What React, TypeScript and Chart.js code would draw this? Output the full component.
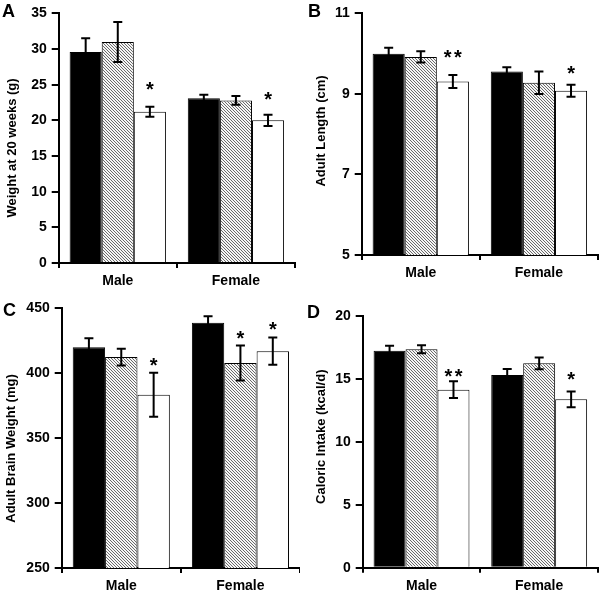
import React, { useEffect, useRef } from 'react';
import { Chart, registerables } from 'chart.js';

Chart.register(...registerables);

const categories = ['Male', 'Female'];

// Panel A – Weight at 20 weeks (g)
const weightBlack = [29.6, 23.1];
const weightBlackErr = [1.9, 0.5];
const weightHatched = [31.0, 22.8];
const weightHatchedErr = [2.8, 0.6];
const weightWhite = [21.2, 20.0];
const weightWhiteErr = [0.7, 0.8];
const weightStars = [['', ''], ['', ''], ['*', '*']];
const weightStarLevels = [[null, null], [null, null], [25.0, 23.6]];
const weightAxis = [0, 35, 5];

// Panel B – Adult Length (cm)
const lengthBlack = [10.0, 9.56];
const lengthBlackErr = [0.15, 0.1];
const lengthHatched = [9.92, 9.28];
const lengthHatchedErr = [0.14, 0.28];
const lengthWhite = [9.31, 9.08];
const lengthWhiteErr = [0.16, 0.15];
const lengthStars = [['', ''], ['', ''], ['**', '*']];
const lengthStarLevels = [[null, null], [null, null], [10.02, 9.62]];
const lengthAxis = [5, 11, 2];

// Panel C – Adult Brain Weight (mg)
const brainBlack = [420, 439];
const brainBlackErr = [7, 5];
const brainHatched = [412.5, 408];
const brainHatchedErr = [6.5, 13.5];
const brainWhite = [383.5, 417];
const brainWhiteErr = [17, 10.5];
const brainStars = [['', ''], ['', '*'], ['*', '*']];
const brainStarLevels = [[null, null], [null, 430.3], [409.8, 437.5]];
const brainAxis = [250, 450, 50];

// Panel D – Caloric Intake (kcal/d)
const calBlack = [17.22, 15.29];
const calBlackErr = [0.4, 0.48];
const calHatched = [17.33, 16.22];
const calHatchedErr = [0.32, 0.47];
const calWhite = [14.13, 13.36];
const calWhiteErr = [0.67, 0.63];
const calStars = [['', ''], ['', ''], ['**', '*']];
const calStarLevels = [[null, null], [null, null], [15.59, 15.36]];
const calAxis = [0, 20, 5];

type Panel = {
  letter: string;
  title: string;
  axis: number[];
  means: number[][];
  errs: number[][];
  stars: string[][];
  starLevels: (number | null)[][];
  left: number;
  top: number;
  padTop: number;
  padRight: number;
  yWidth: number;
  xHeight: number;
  letterPos: [number, number];
  titlePos: [number, number];
};

const panels: Panel[] = [
  {
    letter: 'A',
    title: 'Weight at 20 weeks (g)',
    axis: weightAxis,
    means: [weightBlack, weightHatched, weightWhite],
    errs: [weightBlackErr, weightHatchedErr, weightWhiteErr],
    stars: weightStars,
    starLevels: weightStarLevels,
    left: 0, top: 0, padTop: 8, padRight: 5, yWidth: 58.7, xHeight: 32,
    letterPos: [2, 16.5], titlePos: [12, 148],
  },
  {
    letter: 'B',
    title: 'Adult Length (cm)',
    axis: lengthAxis,
    means: [lengthBlack, lengthHatched, lengthWhite],
    errs: [lengthBlackErr, lengthHatchedErr, lengthWhiteErr],
    stars: lengthStars,
    starLevels: lengthStarLevels,
    left: 300, top: 0, padTop: 8, padRight: 2, yWidth: 61.7, xHeight: 40,
    letterPos: [8, 16.5], titlePos: [21.7, 131],
  },
  {
    letter: 'C',
    title: 'Adult Brain Weight (mg)',
    axis: brainAxis,
    means: [brainBlack, brainHatched, brainWhite],
    errs: [brainBlackErr, brainHatchedErr, brainWhiteErr],
    stars: brainStars,
    starLevels: brainStarLevels,
    left: 0, top: 295, padTop: 11.7, padRight: 0, yWidth: 61.7, xHeight: 22,
    letterPos: [3, 20.5], titlePos: [11.7, 153.5],
  },
  {
    letter: 'D',
    title: 'Caloric Intake (kcal/d)',
    axis: calAxis,
    means: [calBlack, calHatched, calWhite],
    errs: [calBlackErr, calHatchedErr, calWhiteErr],
    stars: calStars,
    starLevels: calStarLevels,
    left: 300, top: 295, padTop: 20.7, padRight: 2, yWidth: 62.7, xHeight: 22.3,
    letterPos: [7, 22.5], titlePos: [21.7, 141.7],
  },
];

const FONT = '"Liberation Sans", Arial, Helvetica, sans-serif';

function makeHatch(): CanvasPattern | string {
  const n = 3;
  const c = document.createElement('canvas');
  c.width = n;
  c.height = n;
  const g = c.getContext('2d');
  if (!g) return '#aaa';
  g.fillStyle = '#f6f6f6';
  g.fillRect(0, 0, n, n);
  g.strokeStyle = '#5a5a5a';
  g.lineWidth = 0.9;
  g.beginPath();
  g.moveTo(-1, -1);
  g.lineTo(n + 1, n + 1);
  g.moveTo(n - 1, -1);
  g.lineTo(n + 1, 1);
  g.moveTo(-1, n - 1);
  g.lineTo(1, n + 1);
  g.stroke();
  return g.createPattern(c, 'repeat') || '#aaa';
}

function PanelChart({ p }: { p: Panel }) {
  const ref = useRef<HTMLCanvasElement | null>(null);
  useEffect(() => {
    if (!ref.current) return;
    const hatch = makeHatch();
    const fills: any[] = ['#000', hatch, '#fff'];
    const overlay = {
      id: 'overlay',
      afterDatasetsDraw(chart: any) {
        const ctx = chart.ctx as CanvasRenderingContext2D;
        const y = chart.scales.y;
        ctx.save();
        p.means.forEach((series, i) => {
          const meta = chart.getDatasetMeta(i);
          series.forEach((v, j) => {
            const bar = meta.data[j] as any;
            const x = bar.x;
            const e = p.errs[i][j];
            const t = y.getPixelForValue(v + e);
            const b = y.getPixelForValue(v - e);
            ctx.strokeStyle = '#000';
            ctx.lineWidth = 2;
            ctx.beginPath();
            ctx.moveTo(x, t);
            ctx.lineTo(x, b);
            ctx.moveTo(x - 4.5, t);
            ctx.lineTo(x + 4.5, t);
            ctx.moveTo(x - 4.5, b);
            ctx.lineTo(x + 4.5, b);
            ctx.stroke();
            const s = p.stars[i][j];
            const lvl = p.starLevels[i][j];
            if (s && lvl != null) {
              ctx.font = `bold 20px ${FONT}`;
              ctx.textAlign = 'left';
              ctx.textBaseline = 'alphabetic';
              ctx.fillStyle = '#000';
              const gap = 2.5;
              const cw = ctx.measureText('*').width;
              const total = s.length * cw + (s.length - 1) * gap;
              let cx = x - total / 2;
              for (const ch of s) {
                ctx.fillText(ch, cx, y.getPixelForValue(lvl) + 11.5);
                cx += cw + gap;
              }
            }
          });
        });
        ctx.restore();
      },
      afterDraw(chart: any) {
        const ctx = chart.ctx as CanvasRenderingContext2D;
        ctx.save();
        ctx.fillStyle = '#000';
        ctx.font = `bold 18px ${FONT}`;
        ctx.textAlign = 'left';
        ctx.textBaseline = 'alphabetic';
        ctx.fillText(p.letter, p.letterPos[0], p.letterPos[1]);
        ctx.translate(p.titlePos[0], p.titlePos[1]);
        ctx.rotate(-Math.PI / 2);
        ctx.font = `bold 13px ${FONT}`;
        ctx.textAlign = 'center';
        ctx.textBaseline = 'middle';
        ctx.fillText(p.title, 0, 0);
        ctx.restore();
      },
    };
    const chart = new Chart(ref.current, {
      type: 'bar',
      data: {
        labels: categories,
        datasets: p.means.map((m, i) => ({
          data: m,
          backgroundColor: fills[i],
          borderColor: '#000',
          borderWidth: 1,
          categoryPercentage: 0.815,
          barPercentage: 1,
        })),
      },
      options: {
        animation: false,
        responsive: false,
        maintainAspectRatio: false,
        events: [],
        layout: { padding: { top: p.padTop, right: p.padRight, left: 0, bottom: 0 } },
        plugins: { legend: { display: false }, tooltip: { enabled: false } },
        scales: {
          x: {
            offset: true,
            grid: { display: true, offset: true, drawOnChartArea: false, drawTicks: true, tickLength: 5, color: '#000', lineWidth: 2 },
            border: { display: true, color: '#000', width: 2 },
            ticks: { color: '#000', font: { family: FONT, size: 14, weight: 'bold' }, padding: 5, maxRotation: 0 },
            afterFit: (s: any) => { s.height = p.xHeight; },
          },
          y: {
            min: p.axis[0],
            max: p.axis[1],
            grid: { display: true, drawOnChartArea: false, drawTicks: true, tickLength: 7, color: '#000', lineWidth: 2 },
            border: { display: true, color: '#000', width: 2 },
            ticks: { stepSize: p.axis[2], color: '#000', font: { family: FONT, size: 14, weight: 'bold' }, padding: 5 },
            afterFit: (s: any) => { s.width = p.yWidth; },
          },
        },
      },
      plugins: [overlay],
    } as any);
    return () => chart.destroy();
  }, [p]);
  return (
    <canvas
      ref={ref}
      width={300}
      height={295}
      style={{ position: 'absolute', left: p.left, top: p.top, width: 300, height: 295 }}
    />
  );
}

export default function App() {
  return (
    <div style={{ position: 'absolute', left: 0, top: 0, width: 600, height: 590, background: '#fff' }}>
      {panels.map((p) => (
        <PanelChart key={p.letter} p={p} />
      ))}
    </div>
  );
}
